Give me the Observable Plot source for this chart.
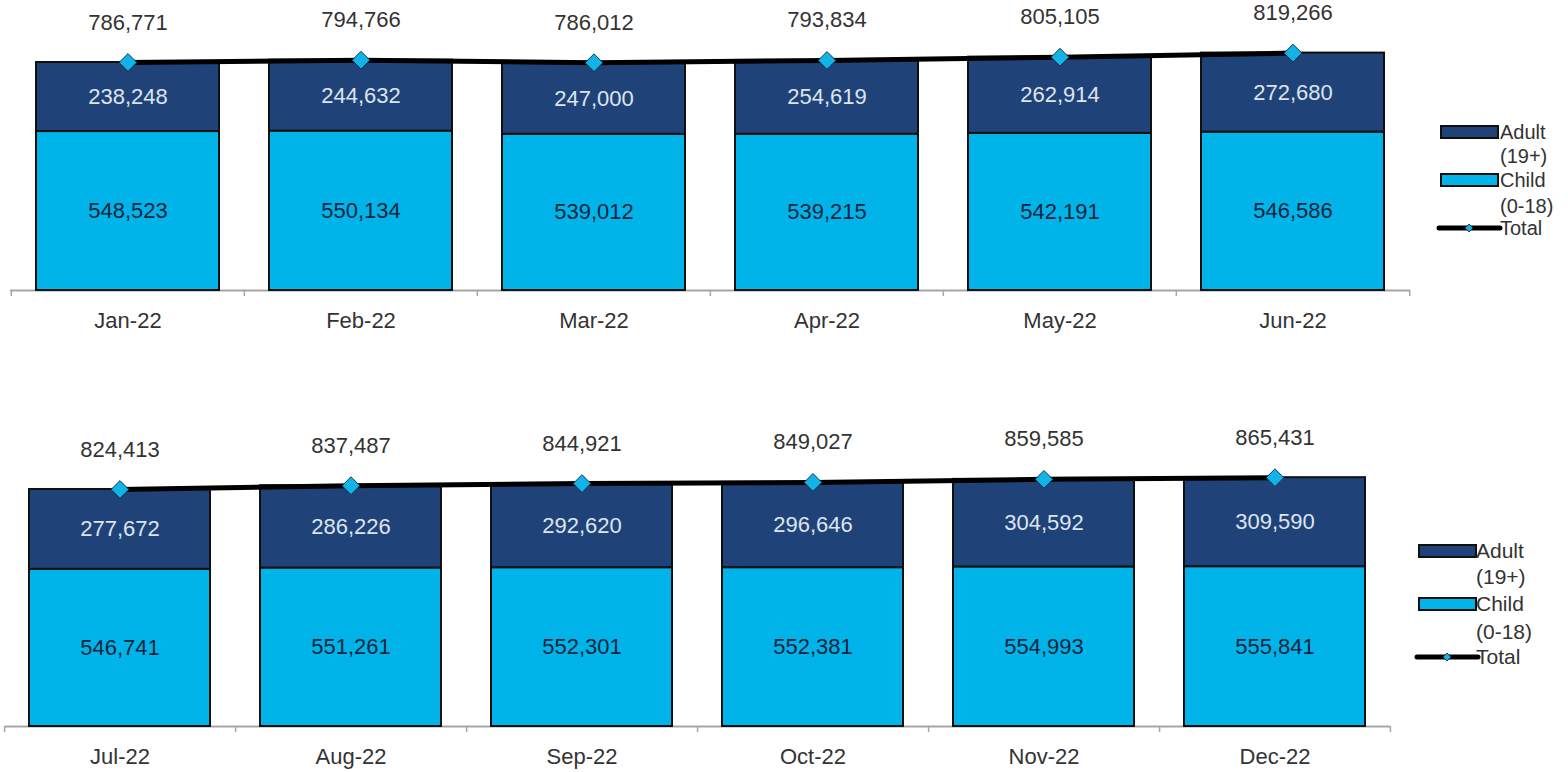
<!DOCTYPE html>
<html>
<head>
<meta charset="utf-8">
<script src="https://cdn.jsdelivr.net/npm/d3@7"></script>
<script src="https://cdn.jsdelivr.net/npm/@observablehq/plot@0.6"></script>
<style>
  html, body { margin: 0; padding: 0; background: #fff; }
  body { width: 1568px; height: 772px; position: relative; overflow: hidden; font-family: "Liberation Sans", Arial, sans-serif; }
  .panel { position: absolute; left: 0; }
  .legend { position: absolute; }
</style>
</head>
<body>
<div id="top" class="panel" style="top:0px"></div>
<div id="bottom" class="panel" style="top:390px"></div>
<svg id="leg1" class="legend" style="left:1420px;top:100px" width="148" height="150"></svg>
<svg id="leg2" class="legend" style="left:1400px;top:520px" width="168" height="160"></svg>
<script>
// ---- data ----
const months1 = ["Jan-22", "Feb-22", "Mar-22", "Apr-22", "May-22", "Jun-22"];
const child1  = [548523, 550134, 539012, 539215, 542191, 546586];
const adult1  = [238248, 244632, 247000, 254619, 262914, 272680];
const total1  = [786771, 794766, 786012, 793834, 805105, 819266];

const months2 = ["Jul-22", "Aug-22", "Sep-22", "Oct-22", "Nov-22", "Dec-22"];
const child2  = [546741, 551261, 552301, 552381, 554993, 555841];
const adult2  = [277672, 286226, 292620, 296646, 304592, 309590];
const total2  = [824413, 837487, 844921, 849027, 859585, 865431];

const seriesNames = ["Child", "Adult"];
const seriesColors = ["#00b3e9", "#1f4378"];

const fmt = d3.format(",");
const FONT = "Liberation Sans, Arial, sans-serif";

function panel(months, child, adult, total, o) {
  const rows = months.flatMap((m, i) => [
    {month: m, series: "Child", value: child[i]},
    {month: m, series: "Adult", value: adult[i]}
  ]);
  const tot = months.map((m, i) => ({month: m, total: total[i]}));
  const step = (o.width - o.ml - o.mr) / months.length;
  const tickLen = 6 / o.pxPer;
  return Plot.plot({
    width: o.width,
    height: o.height,
    marginLeft: o.ml,
    marginRight: o.mr,
    marginTop: 0,
    marginBottom: 0,
    style: {fontFamily: FONT, background: "transparent", overflow: "visible"},
    x: {domain: months, paddingInner: 0.215, paddingOuter: 0.1, axis: null},
    y: {domain: [0, 1000000], range: [o.base, o.base - 1000000 * o.pxPer], axis: null},
    color: {domain: seriesNames, range: seriesColors},
    marks: [
      Plot.ruleY([0], {stroke: "#a6a6a6", strokeWidth: 2}),
      Plot.ruleX(months, {x: d => d, dx: -step / 2, y1: 0, y2: -tickLen, stroke: "#a6a6a6", strokeWidth: 1.5}),
      Plot.ruleX(months.slice(-1), {x: d => d, dx: step / 2, y1: 0, y2: -tickLen, stroke: "#a6a6a6", strokeWidth: 1.5}),
      Plot.barY(rows, {x: "month", y: "value", fill: "series", stroke: "#101010", strokeWidth: 2}),
      Plot.text(rows, Plot.filter(d => d.series === "Child", Plot.stackY({x: "month", y: "value", z: "series", text: d => fmt(d.value), fill: "#13253d", fontSize: 22}))),
      Plot.text(rows, Plot.filter(d => d.series === "Adult", Plot.stackY({x: "month", y: "value", z: "series", text: d => fmt(d.value), fill: "#dde4ee", fontSize: 22}))),
      Plot.line(tot, {x: "month", y: "total", stroke: "#000", strokeWidth: 5}),
      Plot.dot(tot, {x: "month", y: "total", symbol: "diamond2", r: 8, fill: "#12b4e8", stroke: "#1b3350", strokeWidth: 1}),
      Plot.text(tot, {x: "month", y: "total", text: d => fmt(d.total), dy: -40, fill: "#333", fontSize: 22}),
      Plot.text(months, {x: d => d, y: 0, text: d => d, dy: 30, fill: "#333", fontSize: 22})
    ]
  });
}

document.getElementById("top").append(panel(months1, child1, adult1, total1,
  {width: 1420, height: 345, ml: 10, mr: 10, base: 290, pxPer: 0.0002898}));
document.getElementById("bottom").append(panel(months2, child2, adult2, total2,
  {width: 1400, height: 382, ml: 5, mr: 10, base: 336, pxPer: 0.0002875}));

// ---- legends ----
function legend(id, o) {
  const svg = d3.select(id).style("font-family", FONT);
  const items = [
    {kind: "bar", color: seriesColors[1], y: o.ys[0]},
    {kind: "bar", color: seriesColors[0], y: o.ys[2]},
    {kind: "line", y: o.ys[4]}
  ];
  items.forEach(it => {
    if (it.kind === "bar") {
      svg.append("rect").attr("x", o.sx).attr("y", it.y - 6).attr("width", 57).attr("height", 12)
        .attr("fill", it.color).attr("stroke", "#101010").attr("stroke-width", 2);
    } else {
      svg.append("line").attr("x1", o.sx - 2).attr("x2", o.sx + 59).attr("y1", it.y).attr("y2", it.y)
        .attr("stroke", "#000").attr("stroke-width", 5).attr("stroke-linecap", "round");
      svg.append("path").attr("d", d3.symbol(d3.symbolDiamond2, 40)())
        .attr("transform", `translate(${o.sx + 28},${it.y})`)
        .attr("fill", "#12b4e8").attr("stroke", "#1b3350").attr("stroke-width", 1);
    }
  });
  const labels = ["Adult", "(19+)", "Child", "(0-18)", "Total"];
  labels.forEach((t, i) => {
    svg.append("text").attr("x", o.tx).attr("y", o.ys[i]).attr("dy", "0.35em")
      .attr("font-size", o.fs).attr("fill", "#333").text(t);
  });
}
legend("#leg1", {sx: 21, tx: 80, fs: 20, ys: [32, 56, 80, 106, 128]});
legend("#leg2", {sx: 19, tx: 76, fs: 21, ys: [31, 57, 84, 112, 137]});
</script>
</body>
</html>
